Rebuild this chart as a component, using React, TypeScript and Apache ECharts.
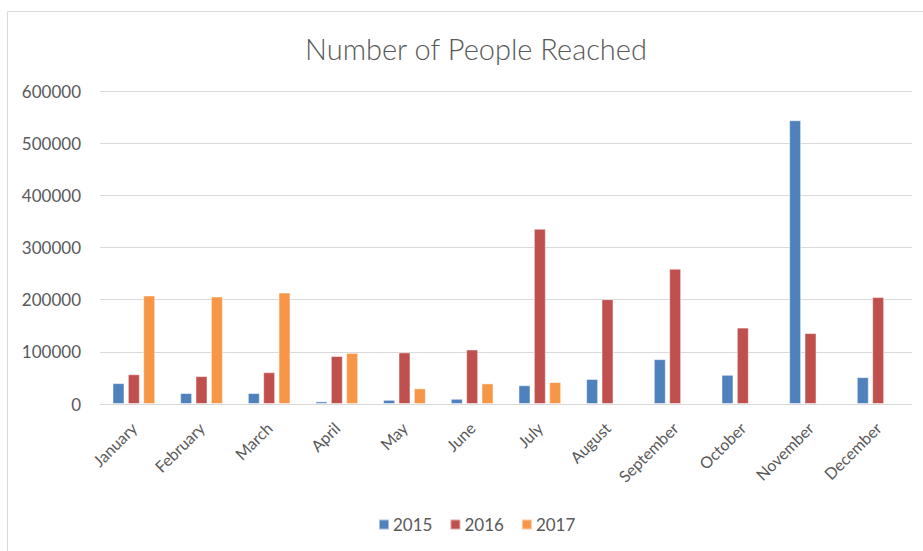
import React, { useEffect, useRef } from "react";
import * as echarts from "echarts";

const months = ["January", "February", "March", "April", "May", "June", "July", "August", "September", "October", "November", "December"];
const series2015 = [40000, 21000, 21000, 5000, 8000, 10000, 36000, 48000, 86000, 56000, 544000, 51500];
const series2016 = [57000, 53500, 61000, 92000, 99000, 104500, 336000, 201000, 259500, 146500, 136000, 205000];
const series2017 = [208000, 206000, 213500, 98000, 30000, 39500, 42000, null, null, null, null, null];
const yTicks = [0, 100000, 200000, 300000, 400000, 500000, 600000];

const FONT = "Lato";
const TXT = "#595959";

export default function App() {
  const ref = useRef<HTMLDivElement>(null);
  useEffect(() => {
    if (!ref.current) return;
    const chart = echarts.init(ref.current, undefined, { renderer: "svg" });
    const bar = (name: string, data: (number | null)[], color: string) => ({
      name,
      type: "bar",
      data,
      barWidth: 12,
      barGap: "28%",
      itemStyle: { color, borderColor: "rgba(255,255,255,0.5)", borderWidth: 1 },
    });
    chart.setOption({
      animation: false,
      backgroundColor: "#ffffff",
      textStyle: { fontFamily: FONT },
      title: {
        text: "Number of People Reached",
        left: 471,
        textAlign: "center",
        top: 29,
        textStyle: { fontFamily: FONT, fontSize: 29, fontWeight: 300, color: TXT },
      },
      legend: {
        data: ["2015", "2016", "2017"],
        bottom: 13,
        left: 373,
        itemWidth: 10,
        itemHeight: 10,
        itemGap: 17,
        icon: "rect",
        textStyle: { fontFamily: FONT, fontSize: 17, color: TXT, padding: [0, 0, 0, -1] },
      },
      grid: { left: 100, right: 11, top: 91, bottom: 147, containLabel: false },
      xAxis: {
        type: "category",
        data: months,
        axisLine: { lineStyle: { color: "#D9D9D9", width: 1 } },
        axisTick: { show: false },
        axisLabel: { rotate: 45, fontFamily: FONT, fontSize: 16, color: TXT, margin: 21, interval: 0 },
      },
      yAxis: {
        type: "value",
        min: yTicks[0],
        max: yTicks[yTicks.length - 1],
        interval: 100000,
        axisLine: { show: false },
        axisTick: { show: false },
        splitLine: { lineStyle: { color: "#D9D9D9", width: 1 } },
        axisLabel: { fontFamily: FONT, fontSize: 17, color: TXT, margin: 19, formatter: (v: number) => String(v) },
      },
      graphic: [
        {
          type: "rect",
          shape: { x: 7.5, y: 11.5, width: 1000, height: 1000 },
          style: { fill: "none", stroke: "#D9D9D9", lineWidth: 1 },
          silent: true,
        },
      ],
      series: [
        bar("2015", series2015, "#4F81BD"),
        bar("2016", series2016, "#C0504D"),
        bar("2017", series2017, "#F79646"),
      ],
    });
    return () => chart.dispose();
  }, []);
  return <div ref={ref} style={{ position: "fixed", left: 0, top: 0, width: 923, height: 551 }} />;
}
